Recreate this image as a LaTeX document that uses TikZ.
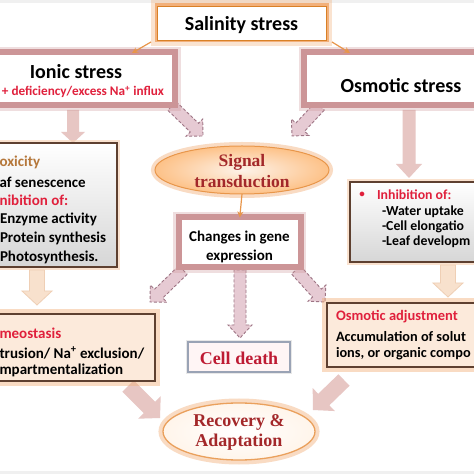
\documentclass[tikz,border=0pt]{standalone}
\usepackage{fontspec}
\newfontfamily\calib{Carlito}
\newfontfamily\serf{Liberation Serif}
\usetikzlibrary{calc,arrows.meta,shapes.geometric}
\definecolor{ored}{HTML}{E0203C}
\definecolor{sred}{HTML}{A3282A}
\definecolor{tox}{HTML}{B5773A}
\definecolor{glowO}{HTML}{F2B07A}
\definecolor{glowR}{HTML}{CC9597}
\definecolor{brd}{HTML}{5E4030}
\definecolor{peach}{HTML}{FCEADB}
\definecolor{dashf}{HTML}{E6CAD3}
\definecolor{dashd}{HTML}{9E7585}
\definecolor{pinkA}{HTML}{E7C6C3}
\definecolor{peachA}{HTML}{F8E1CD}
\definecolor{peachB}{HTML}{EFCFB5}
\definecolor{orgA}{HTML}{E8964A}
\definecolor{deathB}{HTML}{9AA3B5}
\newcommand\blockarrow[6]{%
 \path[#1] let \p1=(#2), \p2=(#3), \n1={atan2(\y2-\y1,\x2-\x1)}, \n2={veclen(\x2-\x1,\y2-\y1)} in
  ($(\p1)+({\n1+90}:#4)$) -- ($(\p1)+(\n1:{\n2-#6})+({\n1+90}:#4)$) -- ($(\p1)+(\n1:{\n2-#6})+({\n1+90}:#5)$) -- (\p2) -- ($(\p1)+(\n1:{\n2-#6})+({\n1-90}:#5)$) -- ($(\p1)+(\n1:{\n2-#6})+({\n1-90}:#4)$) -- ($(\p1)+({\n1-90}:#4)$) -- cycle;}
\begin{document}
\begin{tikzpicture}[x=1pt,y=1pt,
  every node/.style={inner sep=0pt, outer sep=0pt},
  cb/.style={font=\calib\bfseries\fontsize{15}{17}\selectfont},
  cbr/.style={font=\calib\bfseries\fontsize{13.8}{16}\selectfont},
  cbig/.style={font=\calib\bfseries\fontsize{20}{23}\selectfont},
  ser/.style={font=\serf\bfseries\fontsize{17.5}{20}\selectfont, text=sred},
  rosebox/.style={rectangle, fill=white, preaction={draw=glowR, line width=11pt, opacity=0.3}, draw=glowR, line width=6pt},
  salbox/.style={rectangle, fill=white, preaction={draw=glowO, line width=12pt, opacity=0.35}, preaction={draw=glowO, line width=5pt}, draw=brown!60!orange, line width=0.6pt},
  graybox/.style={rectangle, top color=white, bottom color=gray!32, preaction={draw=glowO!60, line width=6pt, opacity=0.6}, draw=brd, line width=1.1pt},
  peachbox/.style={rectangle, fill=peach, preaction={draw=glowO, line width=10pt, opacity=0.45}, draw=brd, line width=1.1pt},
  thinarr/.style={draw=orgA, line width=1.2pt, -{Stealth[length=6pt,width=6pt]}},
  dasharr/.style={fill=dashf, draw=dashd, dashed, line width=0.9pt, dash pattern=on 3pt off 2pt},
  pinkarr/.style={fill=pinkA},
  peacharr/.style={fill=peachA, draw=peachB, line width=0.8pt}]
\useasboundingbox (0,0) rectangle (474,474);
\clip (0,0) rectangle (474,474);
\fill[white] (0,0) rectangle (474,474);
\fill[gray!12] (0,471) rectangle (474,474);
\fill[gray!12] (0,0) rectangle (474,3);

% coordinates for block arrows
\coordinate (pI1) at (73,364);  \coordinate (pI2) at (73,331);
\coordinate (pO1) at (409,364); \coordinate (pO2) at (409,296);
\coordinate (dTL1) at (172,368); \coordinate (dTL2) at (203,338);
\coordinate (dTR1) at (320,368); \coordinate (dTR2) at (292,338);
\coordinate (dBL1) at (183,204); \coordinate (dBL2) at (150,172);
\coordinate (dBM1) at (240,204); \coordinate (dBM2) at (240,136);
\coordinate (dBR1) at (296,204); \coordinate (dBR2) at (325,172);
\coordinate (cL1) at (37,204);  \coordinate (cL2) at (37,169);
\coordinate (cR1) at (448,209); \coordinate (cR2) at (448,177);
\coordinate (rL1) at (128,88);  \coordinate (rL2) at (160,56);
\coordinate (rR1) at (344,94);  \coordinate (rR2) at (313,64);

% block arrows
\blockarrow{pinkarr}{pI1}{pI2}{6}{12}{11}
\blockarrow{pinkarr}{pO1}{pO2}{6.5}{13}{14}
\blockarrow{dasharr}{dTL1}{dTL2}{6}{12}{12}
\blockarrow{dasharr}{dTR1}{dTR2}{6}{12}{12}
\blockarrow{dasharr}{dBL1}{dBL2}{6}{12}{12}
\blockarrow{dasharr}{dBM1}{dBM2}{6}{12}{13}
\blockarrow{dasharr}{dBR1}{dBR2}{6}{12}{12}
\blockarrow{peacharr}{cL1}{cL2}{7.5}{15}{14}
\blockarrow{peacharr}{cR1}{cR2}{7.5}{15}{14}
\blockarrow{pinkarr}{rL1}{rL2}{8}{16}{15}
\blockarrow{pinkarr}{rR1}{rR2}{8}{16}{15}

% boxes
\node[salbox, minimum width=169pt, minimum height=34pt] (sal) at (241.5,451) {};
\node[rosebox, minimum width=185pt, minimum height=53pt] (ionic) at (82.5,395) {};
\node[rosebox, minimum width=180pt, minimum height=53pt] (osm) at (394,395) {};
\node[graybox, minimum width=122pt, minimum height=124pt] (lgray) at (56,269) {};
\node[graybox, minimum width=130pt, minimum height=80pt] (rgray) at (415,252) {};
\node[ellipse, minimum width=174pt, minimum height=48pt, inner color=peach!60, outer color=orange!38!peach, preaction={draw=glowO, line width=8pt, opacity=0.45}, draw=orgA, line width=1pt] (sig) at (242,304) {};
\node[rosebox, minimum width=122pt, minimum height=50pt] (chg) at (239.75,231.5) {};
\node[peachbox, minimum width=160pt, minimum height=67pt] (lpeach) at (75,126.5) {};
\node[peachbox, minimum width=153pt, minimum height=64pt] (rpeach) at (403.5,139) {};
\node[rectangle, fill=red!4, preaction={draw=gray!30, line width=4pt, opacity=0.6}, draw=deathB, line width=1.3pt, minimum width=102pt, minimum height=30pt] (death) at (239,117) {};
\node[ellipse, minimum width=152pt, minimum height=57pt, inner color=white, outer color=orange!8, preaction={draw=glowO, line width=9pt, opacity=0.45}, draw=orgA!90, line width=1.3pt] (rec) at (239,42.5) {};

% thin orange arrows
\coordinate (oL2) at (132,421);
\coordinate (oR2) at (350,421);
\draw[thinarr] ($(sal.south west)+(-6,-2)$) -- (oL2);
\draw[thinarr] ($(sal.south east)+(6,-2)$) -- (oR2);
\draw[thinarr] (sig.south) -- (chg.north);

% texts
\node[cbig] (salT) at (241.5,449) {Salinity stress};
\node[cbig] (ionT) at (76,402) {Ionic stress};
\node[cb, text=ored, font=\calib\bfseries\fontsize{13.2}{15}\selectfont, anchor=east] (ionR) at (164,382) {+ deficiency/excess Na\textsuperscript{+} influx};
\node[cbig] (osmT) at (401,388) {Osmotic stress};
\node[ser] (sig1) at (242,312) {Signal};
\node[ser] (sig2) at (242,292) {transduction};
\node[cb, align=center, font=\calib\bfseries\fontsize{15}{19}\selectfont] (chgT) at (239.5,227) {Changes in gene\\expression};

\node[cb, anchor=west, text=tox] (l1) at (-0.5,312) {oxicity};
\node[cb, anchor=west] (l2) at (-0.5,292) {af senescence};
\node[cb, anchor=west, text=ored] (l3) at (-0.5,274) {nibition of:};
\node[cb, anchor=west] (l4) at (0,255) {Enzyme activity};
\node[cb, anchor=west] (l5) at (0,236) {Protein synthesis};
\node[cb, anchor=west] (l6) at (0,217) {Photosynthesis.};

\node[cb, text=ored, anchor=center, font=\calib\bfseries\fontsize{11}{13}\selectfont] (rb) at (362,279) {\textbullet};
\node[cbr, anchor=west, text=ored] (r1) at (377,279) {Inhibition of:};
\node[cbr, anchor=west] (r2) at (382,262) {-Water uptake};
\node[cbr, anchor=west] (r3) at (382,247) {-Cell elongatio};
\node[cbr, anchor=west] (r4) at (382,232) {-Leaf developm};

\node[cb, anchor=west, text=ored] (p1) at (-0.5,141) {meostasis};
\node[cb, anchor=west] (p2) at (-0.5,121) {trusion/ Na\textsuperscript{+} exclusion/};
\node[cb, anchor=west] (p3) at (-0.5,104) {mpartmentalization};

\node[cbr, anchor=west, text=ored, font=\calib\bfseries\fontsize{14.5}{16}\selectfont] (q1) at (336,157) {Osmotic adjustment};
\node[cbr, anchor=west, font=\calib\bfseries\fontsize{14.3}{16}\selectfont] (q2) at (336,137) {Accumulation of solut};
\node[cbr, anchor=west, font=\calib\bfseries\fontsize{14.3}{16}\selectfont] (q3) at (336,120) {ions, or organic compo};

\node[ser, text=ored!85!black, font=\serf\bfseries\fontsize{18}{21}\selectfont] (deathT) at (239,116) {Cell death};
\node[ser, align=center, font=\serf\bfseries\fontsize{18}{20}\selectfont] (recT) at (239,42) {Recovery \&\\Adaptation};
\end{tikzpicture}
\end{document}
